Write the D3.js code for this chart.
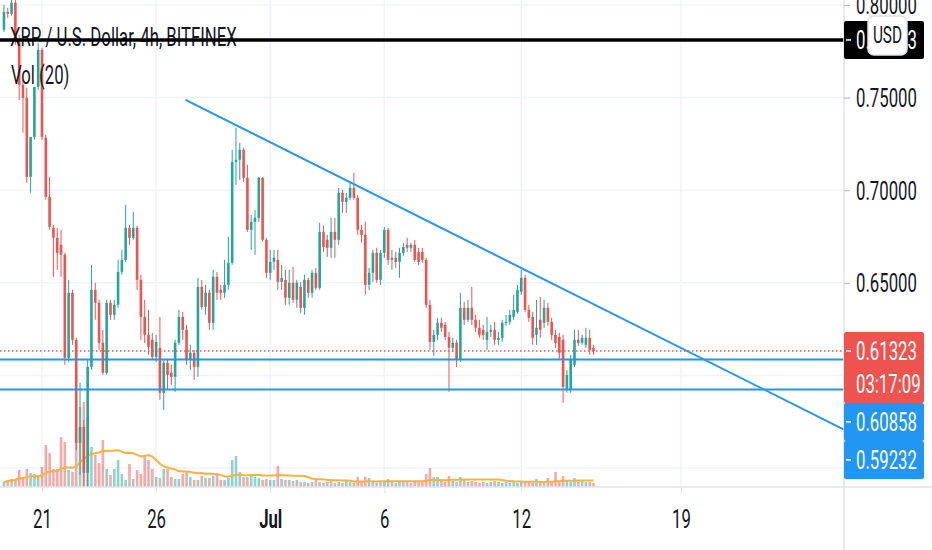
<!DOCTYPE html>
<html>
<head>
<meta charset="utf-8">
<script src="https://cdn.jsdelivr.net/npm/d3@7"></script>
<style>
  html, body { margin: 0; padding: 0; background: #fff; }
  svg { display: block; font-family: Roboto, "Noto Sans", sans-serif; }
</style>
</head>
<body>
<div id="chart"></div>
<script>
// XRP / USD, 4h bars, Bitfinex
const firstBar = new Date(2021, 5, 19, 8);
const barHours = 4;

const open = [
  0.7866,0.7963,0.7952,0.8012,0.7812,0.7569,0.7499,0.7072,0.7288,0.7558,
  0.7758,0.7283,0.6964,0.6797,0.6743,0.6705,0.6651,0.6095,0.6446,0.6192,
  0.5636,0.5722,0.5474,0.6046,0.6462,0.6392,0.6176,0.6014,0.6392,0.6327,
  0.6381,0.6559,0.6624,0.6797,0.6743,0.6797,0.6516,0.6316,0.6219,0.6192,
  0.6100,0.6149,0.5906,0.6068,0.6014,0.5992,0.6176,0.6316,0.6246,0.6084,
  0.6122,0.6046,0.6478,0.6370,0.6446,0.6284,0.6532,0.6462,0.6446,0.6489,
  0.6608,0.7153,0.7164,0.7218,0.7067,0.6786,0.6829,0.6851,0.7067,0.6732,
  0.6554,0.6613,0.6624,0.6505,0.6516,0.6419,0.6500,0.6408,0.6478,0.6365,
  0.6516,0.6446,0.6554,0.6473,0.6775,0.6732,0.6689,0.6775,0.6732,0.6986,
  0.6937,0.6959,0.7013,0.6959,0.6786,0.6759,0.6489,0.6554,0.6662,0.6516,
  0.6662,0.6786,0.6624,0.6635,0.6613,0.6662,0.6705,0.6689,0.6705,0.6667,
  0.6667,0.6624,0.6381,0.6181,0.6219,0.6284,0.6273,0.6208,0.6149,0.6176,
  0.6084,0.6365,0.6300,0.6365,0.6300,0.6257,0.6246,0.6192,0.6235,0.6246,
  0.6192,0.6203,0.6284,0.6289,0.6316,0.6343,0.6451,0.6527,0.6354,0.6316,
  0.6219,0.6300,0.6284,0.6365,0.6289,0.6219,0.6208,0.6192,0.5922,0.5922,
  0.6057,0.6192,0.6176,0.6165,0.6203,0.6149
];
const high = [
  0.8001,0.7985,0.8028,0.8028,0.7839,0.7596,0.7553,0.7110,0.7380,0.7796,
  0.7769,0.7299,0.7072,0.6813,0.6797,0.6786,0.6662,0.6516,0.6462,0.6203,
  0.5960,0.5760,0.6084,0.6597,0.6500,0.6408,0.6246,0.6408,0.6408,0.6408,
  0.6624,0.6678,0.6921,0.6813,0.6883,0.6808,0.6543,0.6408,0.6354,0.6230,
  0.6219,0.6316,0.6084,0.6084,0.6057,0.6192,0.6354,0.6343,0.6273,0.6165,
  0.6138,0.6527,0.6516,0.6489,0.6462,0.6570,0.6559,0.6489,0.6624,0.6748,
  0.7218,0.7337,0.7256,0.7229,0.7137,0.6867,0.6894,0.7072,0.7072,0.6743,
  0.6678,0.6678,0.6678,0.6597,0.6570,0.6570,0.6586,0.6516,0.6505,0.6543,
  0.6527,0.6570,0.6581,0.6824,0.6808,0.6759,0.6851,0.6851,0.7013,0.7002,
  0.6986,0.7045,0.7094,0.6975,0.6813,0.6829,0.6581,0.6678,0.6689,0.6678,
  0.6802,0.6797,0.6678,0.6667,0.6689,0.6716,0.6743,0.6716,0.6732,0.6689,
  0.6689,0.6635,0.6408,0.6246,0.6311,0.6311,0.6289,0.6235,0.6203,0.6192,
  0.6446,0.6397,0.6408,0.6478,0.6327,0.6300,0.6273,0.6316,0.6273,0.6289,
  0.6235,0.6300,0.6327,0.6354,0.6435,0.6489,0.6570,0.6543,0.6381,0.6343,
  0.6408,0.6424,0.6408,0.6392,0.6311,0.6246,0.6230,0.6219,0.6030,0.6111,
  0.6246,0.6246,0.6219,0.6257,0.6246,0.6165
];
const low = [
  0.7855,0.7931,0.7942,0.7785,0.7488,0.7310,0.7040,0.6986,0.7272,0.7542,
  0.7272,0.6948,0.6786,0.6532,0.6570,0.6532,0.6057,0.6073,0.6165,0.5598,
  0.5463,0.5398,0.5398,0.6030,0.6300,0.6138,0.6003,0.6003,0.6300,0.6300,
  0.6365,0.6543,0.6613,0.6705,0.6732,0.6462,0.6192,0.6176,0.6111,0.6084,
  0.6073,0.5868,0.5814,0.5922,0.5949,0.5911,0.6165,0.6192,0.6057,0.6030,
  0.5976,0.5992,0.6354,0.6327,0.6246,0.6246,0.6408,0.6408,0.6419,0.6462,
  0.6597,0.7029,0.7056,0.7045,0.6775,0.6678,0.6651,0.6829,0.6721,0.6527,
  0.6516,0.6570,0.6462,0.6462,0.6381,0.6381,0.6392,0.6365,0.6338,0.6327,
  0.6419,0.6419,0.6462,0.6462,0.6667,0.6640,0.6635,0.6635,0.6705,0.6878,
  0.6878,0.6948,0.6948,0.6759,0.6716,0.6435,0.6462,0.6505,0.6500,0.6489,
  0.6635,0.6597,0.6570,0.6581,0.6527,0.6646,0.6667,0.6667,0.6613,0.6597,
  0.6608,0.6365,0.6138,0.6106,0.6192,0.6235,0.6192,0.5911,0.6127,0.6046,
  0.6073,0.6273,0.6289,0.6273,0.6235,0.6203,0.6192,0.6138,0.6208,0.6165,
  0.6165,0.6181,0.6268,0.6273,0.6300,0.6332,0.6435,0.6343,0.6289,0.6165,
  0.6165,0.6203,0.6257,0.6268,0.6192,0.6149,0.6084,0.5852,0.5906,0.5906,
  0.6046,0.6160,0.6165,0.6149,0.6111,0.6111
];
const close = [
  0.7963,0.7952,0.8012,0.7812,0.7569,0.7499,0.7072,0.7288,0.7558,0.7758,
  0.7288,0.6964,0.6802,0.6743,0.6662,0.6651,0.6095,0.6446,0.6192,0.5636,
  0.5722,0.5474,0.6046,0.6462,0.6392,0.6176,0.6014,0.6392,0.6327,0.6381,
  0.6559,0.6624,0.6797,0.6743,0.6797,0.6516,0.6316,0.6219,0.6154,0.6100,
  0.6181,0.5906,0.6068,0.6003,0.5992,0.6176,0.6316,0.6246,0.6084,0.6122,
  0.6046,0.6478,0.6370,0.6446,0.6284,0.6532,0.6446,0.6446,0.6489,0.6608,
  0.7153,0.7164,0.7218,0.7067,0.6786,0.6829,0.6851,0.7067,0.6732,0.6554,
  0.6613,0.6635,0.6505,0.6527,0.6419,0.6500,0.6408,0.6500,0.6365,0.6516,
  0.6446,0.6554,0.6473,0.6775,0.6694,0.6689,0.6775,0.6732,0.6986,0.6937,
  0.6959,0.7013,0.6959,0.6786,0.6759,0.6489,0.6554,0.6662,0.6516,0.6662,
  0.6786,0.6624,0.6635,0.6613,0.6662,0.6694,0.6689,0.6705,0.6624,0.6613,
  0.6624,0.6381,0.6181,0.6219,0.6284,0.6257,0.6208,0.6149,0.6176,0.6084,
  0.6365,0.6300,0.6365,0.6300,0.6257,0.6219,0.6219,0.6235,0.6246,0.6192,
  0.6203,0.6284,0.6289,0.6327,0.6354,0.6462,0.6527,0.6354,0.6311,0.6203,
  0.6257,0.6246,0.6365,0.6289,0.6219,0.6176,0.6122,0.5938,0.6003,0.6084,
  0.6192,0.6176,0.6203,0.6203,0.6138,0.6132
];
// volume, hundred-thousand XRP per bar
const volume = [
  5,7,8,8,17,8,18,14,13,10,
  20,42,34,18,18,50,45,17,15,45,
  80,85,70,40,32,24,47,18,12,18,
  27,13,7,23,8,17,13,31,27,18,
  10,9,18,18,10,8,8,13,15,10,
  7,7,11,9,9,11,12,7,7,9,
  27,31,15,10,10,12,10,9,7,8,
  7,7,21,8,7,7,6,7,5,5,
  4,5,7,5,4,5,6,4,5,4,
  6,5,4,10,5,10,9,5,4,6,
  5,8,5,4,5,6,5,4,5,5,
  6,13,19,10,10,6,5,11,6,5,
  10,8,5,6,5,4,5,4,5,6,
  5,4,5,4,5,4,5,6,5,4,
  8,5,6,9,5,15,6,11,6,5,
  9,5,6,5,5,4
];
const volPeriod = 20;

const lastPrice = 0.61323;
const countdown = "03:17:09";
const levelLines = [0.60858, 0.59232];
const markLevel = 0.78113;
const trendLine = [
  { t: new Date(2021, 5, 27, 7), p: 0.7488 },
  { t: new Date(2021, 6, 26, 4), p: 0.5706 }
];
const priceTicks = [0.55, 0.60, 0.65, 0.70, 0.75, 0.80];
const timeTicks = [
  new Date(2021, 5, 21), new Date(2021, 5, 26), new Date(2021, 6, 1),
  new Date(2021, 6, 6), new Date(2021, 6, 12), new Date(2021, 6, 19)
];
const title = "XRP / U.S. Dollar, 4h, BITFINEX";
const volTitle = "Vol (20)";

const width = 932, height = 550;
const paneR = 844, paneB = 487;
const SX = 0.67;
const up = "#26a69a", down = "#ef5350", blue = "#2196f3";
const ink = "#131722", grid = "#f0f3fa", border = "#e0e3eb";

const bars = close.map((c, i) => ({
  t: d3.timeHour.offset(firstBar, i * barHours),
  o: open[i], h: high[i], l: low[i], c: c, v: volume[i]
}));
bars.forEach((b, i) => {
  const win = volume.slice(Math.max(0, i - volPeriod + 1), i + 1);
  b.ma = d3.mean(win);
});

const x = d3.scaleTime()
  .domain([new Date(2021, 5, 21), new Date(2021, 6, 19)])
  .range([42, 681]);
const y = d3.scaleLinear().domain([0.55, 0.80]).range([468, 5]);
const yv = d3.scaleLinear().domain([0, 100]).range([paneB, paneB - 100]);

const svg = d3.select("#chart").append("svg")
  .attr("width", width)
  .attr("height", height);

svg.append("defs").append("clipPath").attr("id", "pane")
  .append("rect").attr("x", 0).attr("y", 0).attr("width", paneR).attr("height", paneB);

function txt(parent, px, py, s, o = {}) {
  return parent.append("text")
    .attr("transform", `translate(${px},${py}) scale(${SX},1)`)
    .attr("font-size", o.size || 25)
    .attr("font-weight", o.weight || 400)
    .attr("fill", o.fill || ink)
    .attr("text-anchor", o.anchor || "start")
    .attr("dominant-baseline", "central")
    .text(s);
}

// grid
const gGrid = svg.append("g");
gGrid.selectAll("line.h").data(priceTicks).enter().append("line")
  .attr("x1", 0).attr("x2", paneR)
  .attr("y1", d => y(d)).attr("y2", d => y(d))
  .attr("stroke", grid).attr("stroke-width", 1.5);
gGrid.selectAll("line.v").data(timeTicks).enter().append("line")
  .attr("x1", d => x(d)).attr("x2", d => x(d))
  .attr("y1", 0).attr("y2", paneB)
  .attr("stroke", grid).attr("stroke-width", 1.5);

const pane = svg.append("g").attr("clip-path", "url(#pane)");
const bodyW = 2.6;

// volume
pane.selectAll("rect.vol").data(bars).enter().append("rect")
  .attr("x", d => x(d.t) - bodyW / 2)
  .attr("width", bodyW)
  .attr("y", d => yv(d.v))
  .attr("height", d => paneB - yv(d.v))
  .attr("fill", d => d.c >= d.o ? up : down)
  .attr("fill-opacity", 0.5);

pane.append("path").datum(bars)
  .attr("fill", "none")
  .attr("stroke", "#ffb13b")
  .attr("stroke-width", 2)
  .attr("d", d3.line().x(d => x(d.t)).y(d => yv(d.ma)));

// candles
pane.selectAll("line.wick").data(bars).enter().append("line")
  .attr("x1", d => x(d.t)).attr("x2", d => x(d.t))
  .attr("y1", d => y(d.h)).attr("y2", d => y(d.l))
  .attr("stroke", d => d.c >= d.o ? up : down)
  .attr("stroke-width", 1);
pane.selectAll("rect.body").data(bars).enter().append("rect")
  .attr("x", d => x(d.t) - bodyW / 2)
  .attr("width", bodyW)
  .attr("y", d => y(Math.max(d.o, d.c)))
  .attr("height", d => Math.max(1, Math.abs(y(d.o) - y(d.c))))
  .attr("fill", d => d.c >= d.o ? up : down);

// drawings
pane.selectAll("line.level").data(levelLines).enter().append("line")
  .attr("x1", 0).attr("x2", paneR)
  .attr("y1", d => y(d)).attr("y2", d => y(d))
  .attr("stroke", blue).attr("stroke-width", 2);
pane.append("line")
  .attr("x1", x(trendLine[0].t)).attr("y1", y(trendLine[0].p))
  .attr("x2", x(trendLine[1].t)).attr("y2", y(trendLine[1].p))
  .attr("stroke", blue).attr("stroke-width", 2);
pane.append("line")
  .attr("x1", 0).attr("x2", paneR)
  .attr("y1", y(lastPrice)).attr("y2", y(lastPrice))
  .attr("stroke", down).attr("stroke-width", 1.5)
  .attr("stroke-dasharray", "1.5,2.5");

// legend
txt(svg, 10, 37, title);
txt(svg, 11, 75, volTitle);

svg.append("line")
  .attr("x1", 0).attr("x2", paneR)
  .attr("y1", y(markLevel)).attr("y2", y(markLevel))
  .attr("stroke", "#000").attr("stroke-width", 3.5);

// borders
svg.append("line").attr("x1", paneR).attr("x2", paneR).attr("y1", 0).attr("y2", height)
  .attr("stroke", border).attr("stroke-width", 1.5);
svg.append("line").attr("x1", 0).attr("x2", width).attr("y1", paneB).attr("y2", paneB)
  .attr("stroke", border).attr("stroke-width", 1.5);

// price axis
const gy = svg.append("g").attr("transform", `translate(${paneR},0)`)
  .call(d3.axisRight(y).tickValues(priceTicks).tickFormat(d3.format(".5f")).tickSize(6));
gy.attr("font-family", null).attr("font-size", null);
gy.select(".domain").remove();
gy.selectAll(".tick line").attr("stroke", "#b2b5be");
gy.selectAll(".tick text")
  .attr("x", null).attr("dy", null)
  .attr("transform", `translate(12,0) scale(${SX},1)`)
  .attr("dominant-baseline", "central")
  .attr("font-size", 25).attr("fill", ink);

// time axis
const gx = svg.append("g").attr("transform", `translate(0,${paneB})`)
  .call(d3.axisBottom(x).tickValues(timeTicks)
    .tickFormat(d => d.getDate() === 1 ? d3.timeFormat("%b")(d) : d.getDate())
    .tickSize(6));
gx.attr("font-family", null).attr("font-size", null);
gx.select(".domain").remove();
gx.selectAll(".tick line").attr("stroke", border);
gx.selectAll(".tick text")
  .attr("y", null).attr("dy", null)
  .attr("transform", `translate(0,32) scale(${SX},1)`)
  .attr("dominant-baseline", "central")
  .attr("font-size", 25).attr("fill", ink)
  .attr("font-weight", d => d.getDate() === 1 ? 700 : 400);

// price labels: one row is 38px tall, rows after the first step 33px
const rowH = 38, rowStep = 33, labW = 80;
function tag(py, fill, lines) {
  const g = svg.append("g");
  const top = py - rowH / 2;
  const h = rowH + (lines.length - 1) * rowStep;
  g.append("rect").attr("x", paneR).attr("y", top)
    .attr("width", labW).attr("height", h)
    .attr("rx", 2).attr("fill", fill);
  g.append("line").attr("x1", paneR + 2).attr("x2", paneR + 7)
    .attr("y1", py).attr("y2", py).attr("stroke", "#fff").attr("stroke-width", 1.5);
  lines.forEach((s, k) => txt(g, paneR + 12, py + k * rowStep, s, { fill: "#fff" }));
  return top + h;
}

tag(y(markLevel), "#000", [d3.format(".5f")(markLevel)]);
// stacked labels on the right edge, pushed down so they do not overlap
let next = tag(y(lastPrice), down, [d3.format(".5f")(lastPrice), countdown]);
levelLines.forEach(p => {
  next = tag(Math.max(y(p), next + rowH / 2), blue, [d3.format(".5f")(p)]);
});

// currency button
svg.append("rect").attr("x", 868).attr("y", 16).attr("width", 39).attr("height", 39)
  .attr("rx", 6).attr("fill", "#fff").attr("stroke", border).attr("stroke-width", 1.5);
txt(svg, 887.5, 35, "USD", { anchor: "middle", size: 23 });
</script>
</body>
</html>
